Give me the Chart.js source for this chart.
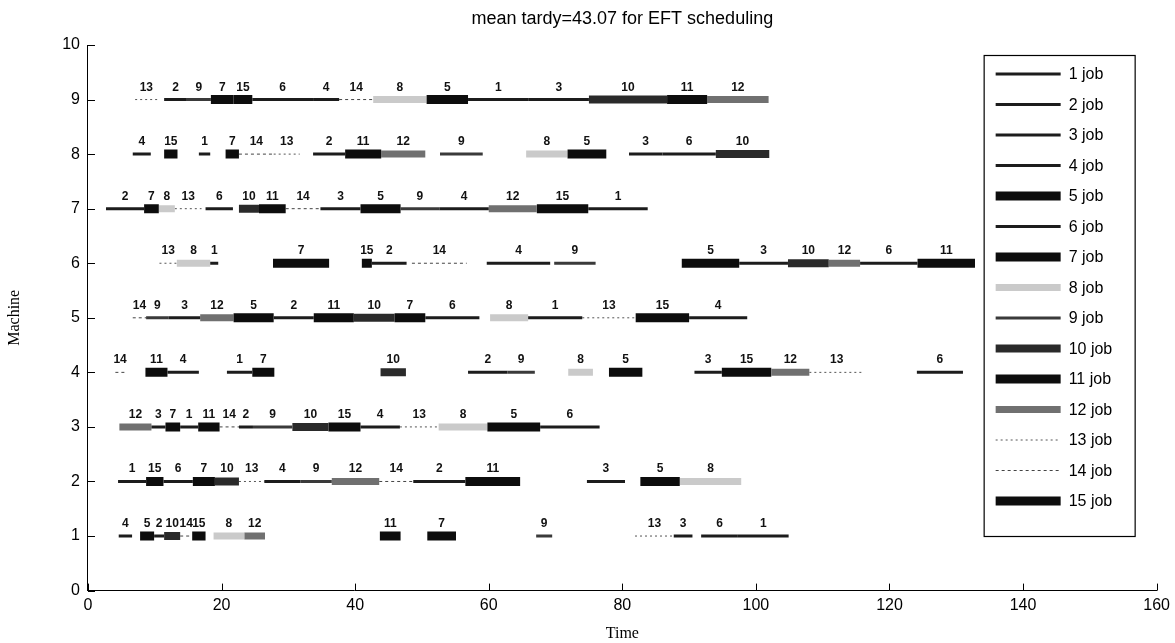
<!DOCTYPE html>
<html>
<head>
<meta charset="utf-8">
<script src="https://cdn.jsdelivr.net/npm/chart.js@4.4.0/dist/chart.umd.min.js"></script>
<style>
  html, body { margin: 0; padding: 0; background: #fff; }
  #wrap { width: 1175px; height: 643px; }
</style>
</head>
<body>
<div id="wrap"><canvas id="gantt"></canvas></div>
<script>
const jobs = [1, 2, 3, 4, 5, 6, 7, 8, 9, 10, 11, 12, 13, 14, 15];
const machineTicks = [0, 1, 2, 3, 4, 5, 6, 7, 8, 9, 10];
const timeTicks = [0, 20, 40, 60, 80, 100, 120, 140, 160];
const chartTitle = 'mean tardy=43.07 for EFT scheduling';

// each entry: [job, start, end]
const machine1 = [[4, 4.6, 6.6], [5, 7.8, 9.9], [2, 9.9, 11.4], [10, 11.4, 13.8], [14, 13.8, 15.6], [15, 15.6, 17.6],
  [8, 18.8, 23.4], [12, 23.4, 26.5], [11, 43.7, 46.8], [7, 50.8, 55.1], [9, 67.1, 69.5],
  [13, 81.9, 87.7], [3, 87.7, 90.5], [6, 91.8, 97.3], [1, 97.3, 104.9]];
const machine2 = [[1, 4.5, 8.7], [15, 8.7, 11.3], [6, 11.3, 15.7], [7, 15.7, 19.0], [10, 19.0, 22.6], [13, 22.6, 26.4],
  [4, 26.4, 31.8], [9, 31.8, 36.5], [12, 36.5, 43.6], [14, 43.6, 48.7], [2, 48.7, 56.5], [11, 56.5, 64.7],
  [3, 74.7, 80.4], [5, 82.7, 88.6], [8, 88.6, 97.8]];
const machine3 = [[12, 4.7, 9.5], [3, 9.5, 11.6], [7, 11.6, 13.8], [1, 13.8, 16.5], [11, 16.5, 19.7], [14, 19.7, 22.6],
  [2, 22.6, 24.7], [9, 24.7, 30.6], [10, 30.6, 36.0], [15, 36.0, 40.8], [4, 40.8, 46.7], [13, 46.7, 52.5],
  [8, 52.5, 59.8], [5, 59.8, 67.7], [6, 67.7, 76.6]];
const machine4 = [[14, 4.1, 5.5], [11, 8.6, 11.9], [4, 11.9, 16.6], [1, 20.8, 24.6], [7, 24.6, 27.9], [10, 43.8, 47.6],
  [2, 56.9, 62.8], [9, 62.8, 66.9], [8, 71.9, 75.6], [5, 78.0, 83.0], [3, 90.8, 94.9], [15, 94.9, 102.3],
  [12, 102.3, 108.0], [13, 108.0, 116.2], [6, 124.1, 131.0]];
const machine5 = [[14, 6.7, 8.7], [9, 8.7, 12.1], [3, 12.1, 16.8], [12, 16.8, 21.8], [5, 21.8, 27.8], [2, 27.8, 33.8],
  [11, 33.8, 39.8], [10, 39.8, 45.9], [7, 45.9, 50.5], [6, 50.5, 58.6], [8, 60.2, 65.9], [1, 65.9, 74.0],
  [13, 74.0, 82.0], [15, 82.0, 90.0], [4, 90.0, 98.7]];
const machine6 = [[13, 10.7, 13.3], [8, 13.3, 18.3], [1, 18.3, 19.5], [7, 27.7, 36.1], [15, 41.0, 42.5], [2, 42.5, 47.7],
  [14, 48.5, 56.7], [4, 59.7, 69.2], [9, 69.8, 76.0], [5, 88.9, 97.5], [3, 97.5, 104.8], [10, 104.8, 110.9],
  [12, 110.9, 115.6], [6, 115.6, 124.2], [11, 124.2, 132.8]];
const machine7 = [[2, 2.7, 8.4], [7, 8.4, 10.6], [8, 10.6, 13.0], [13, 13.0, 17.0], [6, 17.6, 21.7], [10, 22.6, 25.6],
  [11, 25.6, 29.6], [14, 29.6, 34.8], [3, 34.8, 40.8], [5, 40.8, 46.8], [9, 46.8, 52.6], [4, 52.6, 60.0],
  [12, 60.0, 67.2], [15, 67.2, 74.9], [1, 74.9, 83.8]];
const machine8 = [[4, 6.7, 9.4], [15, 11.4, 13.4], [1, 16.6, 18.3], [7, 20.6, 22.6], [14, 22.6, 27.8], [13, 27.8, 31.7],
  [2, 33.7, 38.5], [11, 38.5, 43.9], [12, 43.9, 50.5], [9, 52.7, 59.1], [8, 65.6, 71.8], [5, 71.8, 77.6],
  [3, 81.0, 86.0], [6, 86.0, 94.0], [10, 94.0, 102.0]];
const machine9 = [[13, 7.06, 10.4], [2, 11.4, 14.8], [9, 14.8, 18.4], [7, 18.4, 21.8], [15, 21.8, 24.6], [6, 24.6, 33.7],
  [4, 33.7, 37.6], [14, 37.6, 42.7], [8, 42.7, 50.7], [5, 50.7, 56.9], [1, 56.9, 66.0], [3, 66.0, 75.0],
  [10, 75.0, 86.7], [11, 86.7, 92.7], [12, 92.7, 101.9]];

const schedule = [machine1, machine2, machine3, machine4, machine5, machine6, machine7, machine8, machine9];

// line look for each job: [colour, width, dash]
const jobLook = {
  1: ['#1c1c1c', 3, []], 2: ['#1c1c1c', 3, []], 3: ['#1c1c1c', 3, []], 4: ['#1c1c1c', 3, []],
  5: ['#0d0d0d', 9, []], 6: ['#1c1c1c', 3, []], 7: ['#0d0d0d', 9, []], 8: ['#cacaca', 7, []],
  9: ['#3a3a3a', 3, []], 10: ['#2a2a2a', 8, []], 11: ['#0d0d0d', 9, []], 12: ['#707070', 7, []],
  13: ['#555', 1, [2, 3]], 14: ['#444', 1, [3, 3]], 15: ['#0d0d0d', 9, []]
};

const sans = '"Liberation Sans", Arial, sans-serif';
const serif = '"Liberation Serif", "Times New Roman", serif';

// one dataset per job, segments split by null points
const datasets = jobs.map(job => {
  const pts = [];
  schedule.forEach((row, i) => {
    row.filter(s => s[0] === job).forEach(s => {
      pts.push({ x: s[1], y: i + 1 }, { x: s[2], y: i + 1 }, { x: s[2], y: null });
    });
  });
  const [color, width, dash] = jobLook[job];
  return {
    label: job + ' job',
    data: pts,
    borderColor: color,
    borderWidth: width,
    borderDash: dash,
    borderCapStyle: 'butt',
    pointRadius: 0,
    spanGaps: false,
    fill: false,
    tension: 0
  };
});

const segmentLabels = {
  id: 'segmentLabels',
  afterDatasetsDraw(chart) {
    const { ctx, scales: { x, y } } = chart;
    ctx.save();
    ctx.fillStyle = '#111';
    ctx.font = 'bold 12px ' + sans;
    ctx.textAlign = 'center';
    ctx.textBaseline = 'alphabetic';
    schedule.forEach((row, i) => {
      row.forEach(([job, s, e]) => {
        ctx.fillText(String(job), x.getPixelForValue((s + e) / 2), y.getPixelForValue(i + 1) - 9);
      });
    });
    ctx.restore();
  }
};

// title over the middle of the plot, inward tick marks, boxed legend
const decorations = {
  id: 'decorations',
  afterDraw(chart) {
    const { ctx, chartArea: a, scales: { x, y } } = chart;
    ctx.save();
    ctx.fillStyle = '#000';
    ctx.font = '18px ' + sans;
    ctx.textAlign = 'center';
    ctx.textBaseline = 'middle';
    ctx.fillText(chartTitle, (a.left + a.right) / 2, 19);

    ctx.strokeStyle = '#000';
    ctx.lineWidth = 1;
    ctx.beginPath();
    timeTicks.forEach(v => {
      const px = Math.round(x.getPixelForValue(v)) + 0.5;
      ctx.moveTo(px, a.bottom); ctx.lineTo(px, a.bottom - 7);
    });
    machineTicks.forEach(v => {
      const py = Math.round(y.getPixelForValue(v)) + 0.5;
      ctx.moveTo(a.left, py); ctx.lineTo(a.left + 7, py);
    });
    ctx.stroke();

    const left = a.right - 173, top = a.top + 10, w = 151, h = 481;
    ctx.fillStyle = '#fff';
    ctx.fillRect(left, top, w, h);
    ctx.lineWidth = 1.2;
    ctx.strokeRect(left + 0.5, top + 0.5, w, h);
    ctx.font = '16px ' + sans;
    ctx.textAlign = 'left';
    chart.data.datasets.forEach((ds, i) => {
      const cy = top + 19 + i * 30.5;
      ctx.beginPath();
      ctx.strokeStyle = ds.borderColor;
      ctx.lineWidth = ds.borderWidth;
      ctx.setLineDash(ds.borderDash);
      ctx.lineCap = 'butt';
      ctx.moveTo(left + 12, cy);
      ctx.lineTo(left + 77, cy);
      ctx.stroke();
      ctx.setLineDash([]);
      ctx.fillStyle = '#000';
      ctx.fillText(ds.label, left + 85, cy + 1);
    });
    ctx.restore();
  }
};

new Chart(document.getElementById('gantt'), {
  type: 'line',
  data: { datasets: datasets },
  options: {
    responsive: true,
    maintainAspectRatio: false,
    animation: false,
    layout: { padding: { left: 5, right: 14, top: 45, bottom: 0 } },
    plugins: {
      legend: { display: false },
      tooltip: { enabled: false },
      title: { display: false }
    },
    scales: {
      x: {
        type: 'linear',
        min: 0, max: 160,
        grid: { display: false, drawTicks: false },
        border: { display: true, color: '#000', width: 1 },
        afterBuildTicks: s => { s.ticks = timeTicks.map(v => ({ value: v })); },
        ticks: { color: '#000', padding: 5, maxRotation: 0, font: { family: sans, size: 16 } },
        title: {
          display: true, text: 'Time', color: '#000', padding: { top: 4, bottom: 0 },
          font: { family: serif, size: 16 }
        }
      },
      y: {
        type: 'linear',
        min: 0, max: 10,
        grid: { display: false, drawTicks: false },
        border: { display: true, color: '#000', width: 1 },
        afterBuildTicks: s => { s.ticks = machineTicks.map(v => ({ value: v })); },
        ticks: { color: '#000', padding: 8, font: { family: sans, size: 16 } },
        title: {
          display: true, text: 'Machine', color: '#000', padding: { top: 0, bottom: 30 },
          font: { family: serif, size: 16 }
        }
      }
    }
  },
  plugins: [segmentLabels, decorations]
});
</script>
</body>
</html>
